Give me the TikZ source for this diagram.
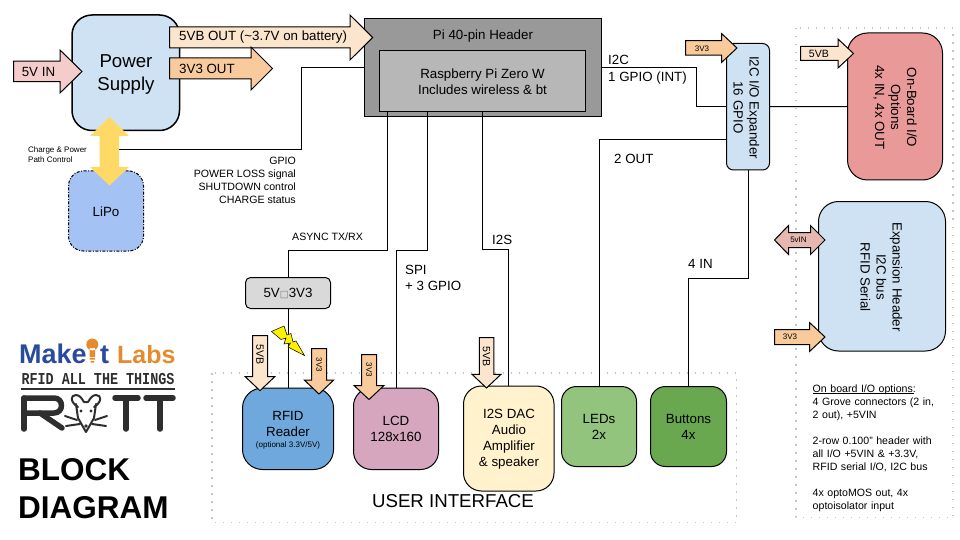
\documentclass[tikz,border=0pt]{standalone}
\usepackage{fontspec}
\setmainfont{Liberation Sans}
\newfontfamily\boxfont{DejaVu Sans}
\newfontfamily\stencilfont{Liberation Mono}
\usepackage{tikz}
\usetikzlibrary{arrows,arrows.meta,calc}
\definecolor{supplyblue}{HTML}{CFE2F3}
\definecolor{lipoblue}{HTML}{A4C2F4}
\definecolor{rfidblue}{HTML}{6FA8DC}
\definecolor{inpink}{HTML}{F4CCCC}
\definecolor{vbpeach}{HTML}{FCE5CD}
\definecolor{vorange}{HTML}{F9CB9C}
\definecolor{chargeyellow}{HTML}{FFD966}
\definecolor{headergray}{HTML}{999999}
\definecolor{zerogray}{HTML}{B7B7B7}
\definecolor{convgray}{HTML}{D9D9D9}
\definecolor{lcdpink}{HTML}{D5A6BD}
\definecolor{dacyellow}{HTML}{FFF2CC}
\definecolor{ledgreen}{HTML}{93C47D}
\definecolor{buttongreen}{HTML}{6AA84F}
\definecolor{ioredd}{HTML}{EA9999}
\definecolor{vinrose}{HTML}{E6B8AF}
\definecolor{dotgray}{HTML}{C4C4C4}
\definecolor{logoblue}{HTML}{2A4A9E}
\definecolor{logoorange}{HTML}{E68A2E}
\definecolor{logodark}{HTML}{2E2E2E}
\tikzset{%
    block/.style={draw,rounded corners=20pt,align=center,inner sep=0pt},
    wire/.style={line width=1pt},
    powerarrow/.style={draw,line width=1pt,line join=miter},
    zone/.style={draw=dotgray,line width=1.5pt,dash pattern=on 1.5pt off 6.5pt},
    big/.style={font=\fontsize{13.33}{16}\selectfont,align=center,inner sep=0pt},
    mid/.style={font=\fontsize{10.6}{13}\selectfont,inner sep=0pt},
    tiny/.style={font=\fontsize{8}{10}\selectfont,inner sep=0pt}
}
% arrows: colour, start, base of head, tip, centre, half shaft, half head
\newcommand{\rightpower}[7]{\draw[powerarrow,fill=#1] (#2,#5-#6) -- (#3,#5-#6) -- (#3,#5-#7) -- (#4,#5) -- (#3,#5+#7) -- (#3,#5+#6) -- (#2,#5+#6) -- cycle;}
\newcommand{\downpower}[7]{\draw[powerarrow,fill=#1] (#5-#6,#2) -- (#5-#6,#3) -- (#5-#7,#3) -- (#5,#4) -- (#5+#7,#3) -- (#5+#6,#3) -- (#5+#6,#2) -- cycle;}
\begin{document}
\begin{tikzpicture}[x=1pt,y=-1pt]
      \useasboundingbox (0,0) rectangle (960,540);

      % dotted zones
      \draw[zone] (212,373) rectangle (736.5,522.5);
      \draw[zone] (796,28) rectangle (953,517.5);

      \node[block,fill=supplyblue,line width=1.5pt,minimum width=107.5pt,minimum height=115.5pt] (supply) at (125.75,72.75) {};
      \node[block,fill=lipoblue,rounded corners=15pt,line width=1pt,dash pattern=on 3pt off 1.5pt on 1pt off 1.5pt,minimum width=75pt,minimum height=80pt] (lipo) at (106,211) {};
      \node[draw,fill=headergray,line width=1pt,minimum width=236.5pt,minimum height=98.5pt,inner sep=0pt] (header) at (482.75,67.75) {};
      \node[draw,fill=zerogray,line width=1pt,minimum width=206pt,minimum height=61.5pt,inner sep=0pt] (zero) at (482.5,81.25) {};
      \node[block,fill=convgray,rounded corners=5pt,line width=1pt,minimum width=85pt,minimum height=31pt] (conv) at (288,293) {};
      \node[block,fill=rfidblue,line width=1pt,minimum width=91pt,minimum height=81.5pt] (rfid) at (288,428.75) {};
      \node[block,fill=lcdpink,rounded corners=18pt,line width=1pt,minimum width=85pt,minimum height=81.5pt] (lcd) at (396,428.75) {};
      \node[block,fill=dacyellow,rounded corners=18pt,line width=1pt,minimum width=90.5pt,minimum height=105pt] (dac) at (508.75,438.5) {};
      \node[block,fill=ledgreen,rounded corners=15pt,line width=1pt,minimum width=75pt,minimum height=80pt] (leds) at (599,426.5) {};
      \node[block,fill=buttongreen,rounded corners=15pt,line width=1pt,minimum width=76pt,minimum height=80pt] (buttons) at (688.5,426.5) {};
      \node[block,fill=supplyblue,rounded corners=7pt,line width=1pt,minimum width=43pt,minimum height=126.5pt] (expander) at (748,106.75) {};
      \node[block,fill=ioredd,line width=1pt,minimum width=95pt,minimum height=147pt] (onboard) at (895,106.5) {};
      \node[block,fill=supplyblue,line width=1pt,minimum width=127pt,minimum height=149.5pt] (expansion) at (882,276.25) {};

      % free ends on the shapes
      \coordinate (gpiotap) at (119,150);
      \coordinate (asynctap) at (387.5,112);
      \coordinate (spitap) at (427.5,112);
      \coordinate (i2stap) at (482.5,112);
      \coordinate (outtap) at (727,139.5);

      \draw[wire] (header.west) -- ++(-62.5,0) |- (gpiotap);
      \draw[wire] (asynctap) -- ++(0,138) -| (conv.north);
      \draw[wire] (conv.south) -- (rfid.north);
      \draw[wire] (spitap) -- ++(0,138) -| (lcd.north);
      \draw[wire] (i2stap) -- ++(0,137) -| (dac.north);
      \draw[wire] (header.east) -- ++(95,0) |- (expander.west);
      \draw[wire] (expander.east) -- (onboard.west);
      \draw[wire] (outtap) -| (leds.north);
      \draw[wire] (expander.south) -- ++(0,108) -| (buttons.north);

      % power arrows
      \rightpower{inpink}{13.5}{60}{82}{71.5}{10.25}{21.5}
      \rightpower{vbpeach}{169.5}{350}{372.7}{37.5}{10.5}{22.5}
      \rightpower{vorange}{169.5}{251}{272.5}{68.5}{10.5}{21.5}
      \rightpower{vorange}{685.5}{721.5}{737}{48}{7.25}{14.5}
      \rightpower{vbpeach}{800.5}{838}{853.5}{53.5}{7}{14.5}
      \rightpower{vorange}{774.5}{809.5}{825}{337}{7.5}{14.5}
      \downpower{vbpeach}{335.5}{376.7}{390.7}{260}{7.5}{14.75}
      \downpower{vorange}{348.7}{380}{394}{319}{7.5}{14.75}
      \downpower{vorange}{354.5}{385.7}{399.5}{369}{7.5}{14.75}
      \downpower{vbpeach}{337.5}{374.3}{388}{486.5}{7.25}{14.5}
      \draw[powerarrow,fill=vinrose] (774.5,240) -- (788.5,225.5) -- (788.5,232.5) -- (810.5,232.5) -- (810.5,225.5) -- (825,240) -- (810.5,254.5) -- (810.5,247.5) -- (788.5,247.5) -- (788.5,254.5) -- cycle;
      \fill[chargeyellow] (109.5,117) -- (129,136) -- (119,136) -- (119,167) -- (129,167) -- (109.5,185.5) -- (90,167) -- (99.5,167) -- (99.5,136) -- (90,136) -- cycle;

      % lightning
      \draw[fill=yellow,line width=0.5pt] (271.5,331.5) -- (284,326) -- (287,335) -- (291,333.5) -- (293,342) -- (296,341) -- (304.5,355.5) -- (288,347) -- (290.5,343) -- (284,344) -- (286,338) -- (281,339.5) -- cycle;

      % texts of the blocks
      \node[font=\fontsize{18.67}{23}\selectfont,align=center,inner sep=0pt] (supplylabel) at (126,75) {Power\\Supply};
      \node[big] (lipolabel) at (106,211.5) {LiPo};
      \node[big] (headerlabel) at (483,36) {Pi 40-pin Header};
      \node[big] (zerolabel) at (482.5,82) {Raspberry Pi Zero W\\Includes wireless \& bt};
      \node[big] (convlabel) at (288,293.5) {5V{\boxfont\color{gray}\fontsize{9.5}{9}\selectfont □}3V3};
      \node[big] (rfidlabel) at (288,424) {RFID\\Reader};
      \node[tiny] (rfidnote) at (288,445) {(optional 3.3V/5V)};
      \node[big] (lcdlabel) at (396,429) {LCD\\128x160};
      \node[big] (daclabel) at (509,439) {I2S DAC\\Audio\\Amplifier\\\& speaker};
      \node[big] (ledslabel) at (599,426.5) {LEDs\\2x};
      \node[big] (buttonslabel) at (688.5,426.5) {Buttons\\4x};
      \node[big,rotate=-90] (expanderlabel) at (746.5,107.5) {I2C I/O Expander\\16 GPIO};
      \node[big,rotate=-90] (onboardlabel) at (895,107.5) {On-Board I/O\\Options\\4x IN, 4x OUT};
      \node[big,rotate=-90] (expansionlabel) at (881.5,277) {Expansion Header\\I2C bus\\RFID Serial};
      \node[font=\fontsize{18.67}{23}\selectfont,inner sep=0pt] (uilabel) at (453,501.5) {USER INTERFACE};

      % texts of the arrows
      \node[big] (inlabel) at (38.5,71.5) {5V IN};
      \node[big,anchor=west] (vboutlabel) at (179,37) {5VB OUT (\textasciitilde3.7V on battery)};
      \node[big,anchor=west] (v3outlabel) at (179,68.5) {3V3 OUT};
      \node[tiny] (expv3label) at (702,48.5) {3V3};
      \node[mid] (ob5vlabel) at (819,53.5) {5VB};
      \node[tiny] (vinlabel) at (798.5,240) {5vIN};
      \node[tiny] (hdrv3label) at (790,337) {3V3};
      \node[mid,rotate=-90] (rfid5vlabel) at (260,355) {5VB};
      \node[tiny,rotate=-90] (rfidv3label) at (319,365) {3V3};
      \node[tiny,rotate=-90] (lcdv3label) at (369,370) {3V3};
      \node[mid,rotate=-90] (dac5vlabel) at (486.5,357) {5VB};

      % texts of the wires
      \node[tiny,align=left,anchor=west] (chargelabel) at (28,155) {Charge \& Power\\Path Control};
      \node[mid,align=right,anchor=north east] (gpiolabel) at (296,157) {GPIO\\POWER LOSS signal\\SHUTDOWN control\\CHARGE status};
      \node[mid,anchor=west] (asynclabel) at (292,237) {ASYNC TX/RX};
      \node[big,anchor=north west,align=left] (spilabel) at (405,265) {SPI\\+ 3 GPIO};
      \node[big,anchor=west] (i2slabel) at (492,240) {I2S};
      \node[big,anchor=north west,align=left] (i2clabel) at (608,55) {I2C\\[1pt]1 GPIO (INT)};
      \node[big,anchor=west] (outlabel) at (614,159) {2 OUT};
      \node[big,anchor=west] (inwirelabel) at (688,264) {4 IN};
      \node[mid,align=left,anchor=north west,text width=135pt] (optionslabel) at (812.5,384.5) {\rlap{\rule[-1.6pt]{101.5pt}{.7pt}}On board I/O options:\\4 Grove connectors (2 in,\\2 out), +5VIN\\[13pt]2-row 0.100” header with\\all I/O +5VIN \& +3.3V,\\RFID serial I/O, I2C bus\\[13pt]4x optoMOS out, 4x\\optoisolator input};

      % title
      \node[font=\fontsize{31.5}{38}\selectfont\bfseries,anchor=base west,inner sep=0pt] (titleblock) at (18,480.5) {BLOCK};
      \node[font=\fontsize{31.5}{38}\selectfont\bfseries,anchor=base west,inner sep=0pt] (titlediagram) at (18,518) {DIAGRAM};

      % logo
      \node[font=\fontsize{27}{27}\selectfont\bfseries,text=logoblue,anchor=base west,inner sep=0pt] (logomake) at (19,363) {Make};
      \node[font=\fontsize{27}{27}\selectfont\bfseries,text=logoblue,anchor=base west,inner sep=0pt] (logot) at (100,363) {t};
      \node[font=\fontsize{25}{25}\selectfont\bfseries,text=logoorange,anchor=base west,inner sep=0pt] (logolabs) at (117,363) {Labs};
      \fill[logoorange] (92.3,344.5) circle[radius=6] (89.5,348) rectangle (95,357);
      \fill[logoorange] (89.5,358) rectangle (95,359.5) (90.5,361) rectangle (94,362.5);
      \node[font=\stencilfont\bfseries\fontsize{14.5}{15}\selectfont,text=logodark,inner sep=0pt,xscale=.925,yscale=1.15] (logorfid) at (98,379.5) {RFID ALL THE THINGS};
      \draw[logodark,line width=1.5pt] (21,389) -- (175,389);
      \begin{scope}[logodark,line width=5.5pt,line cap=round,line join=round]
        \draw (24,398) -- (54,398) .. controls (64,398) and (64,413) .. (54,413) -- (24,413);
        \draw (24,398) -- (24,429);
        \draw (40,413) -- (62,428);
        \draw (115,398) -- (138,398) (126,398) -- (126,429);
        \draw (146,398) -- (173,398) (160,398) -- (160,429);
      \end{scope}
      \begin{scope}[logodark,line width=2pt,line cap=round,line join=round]
        \draw (78,407) .. controls (70,402) and (70,395) .. (76,395) .. controls (80,395) and (82,399) .. (84,402) -- (88,402) .. controls (90,399) and (92,395) .. (96,395) .. controls (102,395) and (102,402) .. (94,407);
        \draw (76,404) -- (78,418) -- (86,432) -- (94,418) -- (96,404);
        \draw (65,416) -- (77,420) (107,416) -- (95,420) (66,426) -- (80,424) (106,426) -- (92,424);
        \fill (81,411) circle[radius=1.6] (91,411) circle[radius=1.6] (86,426) circle[radius=1.8];
      \end{scope}
\end{tikzpicture}
\end{document}
